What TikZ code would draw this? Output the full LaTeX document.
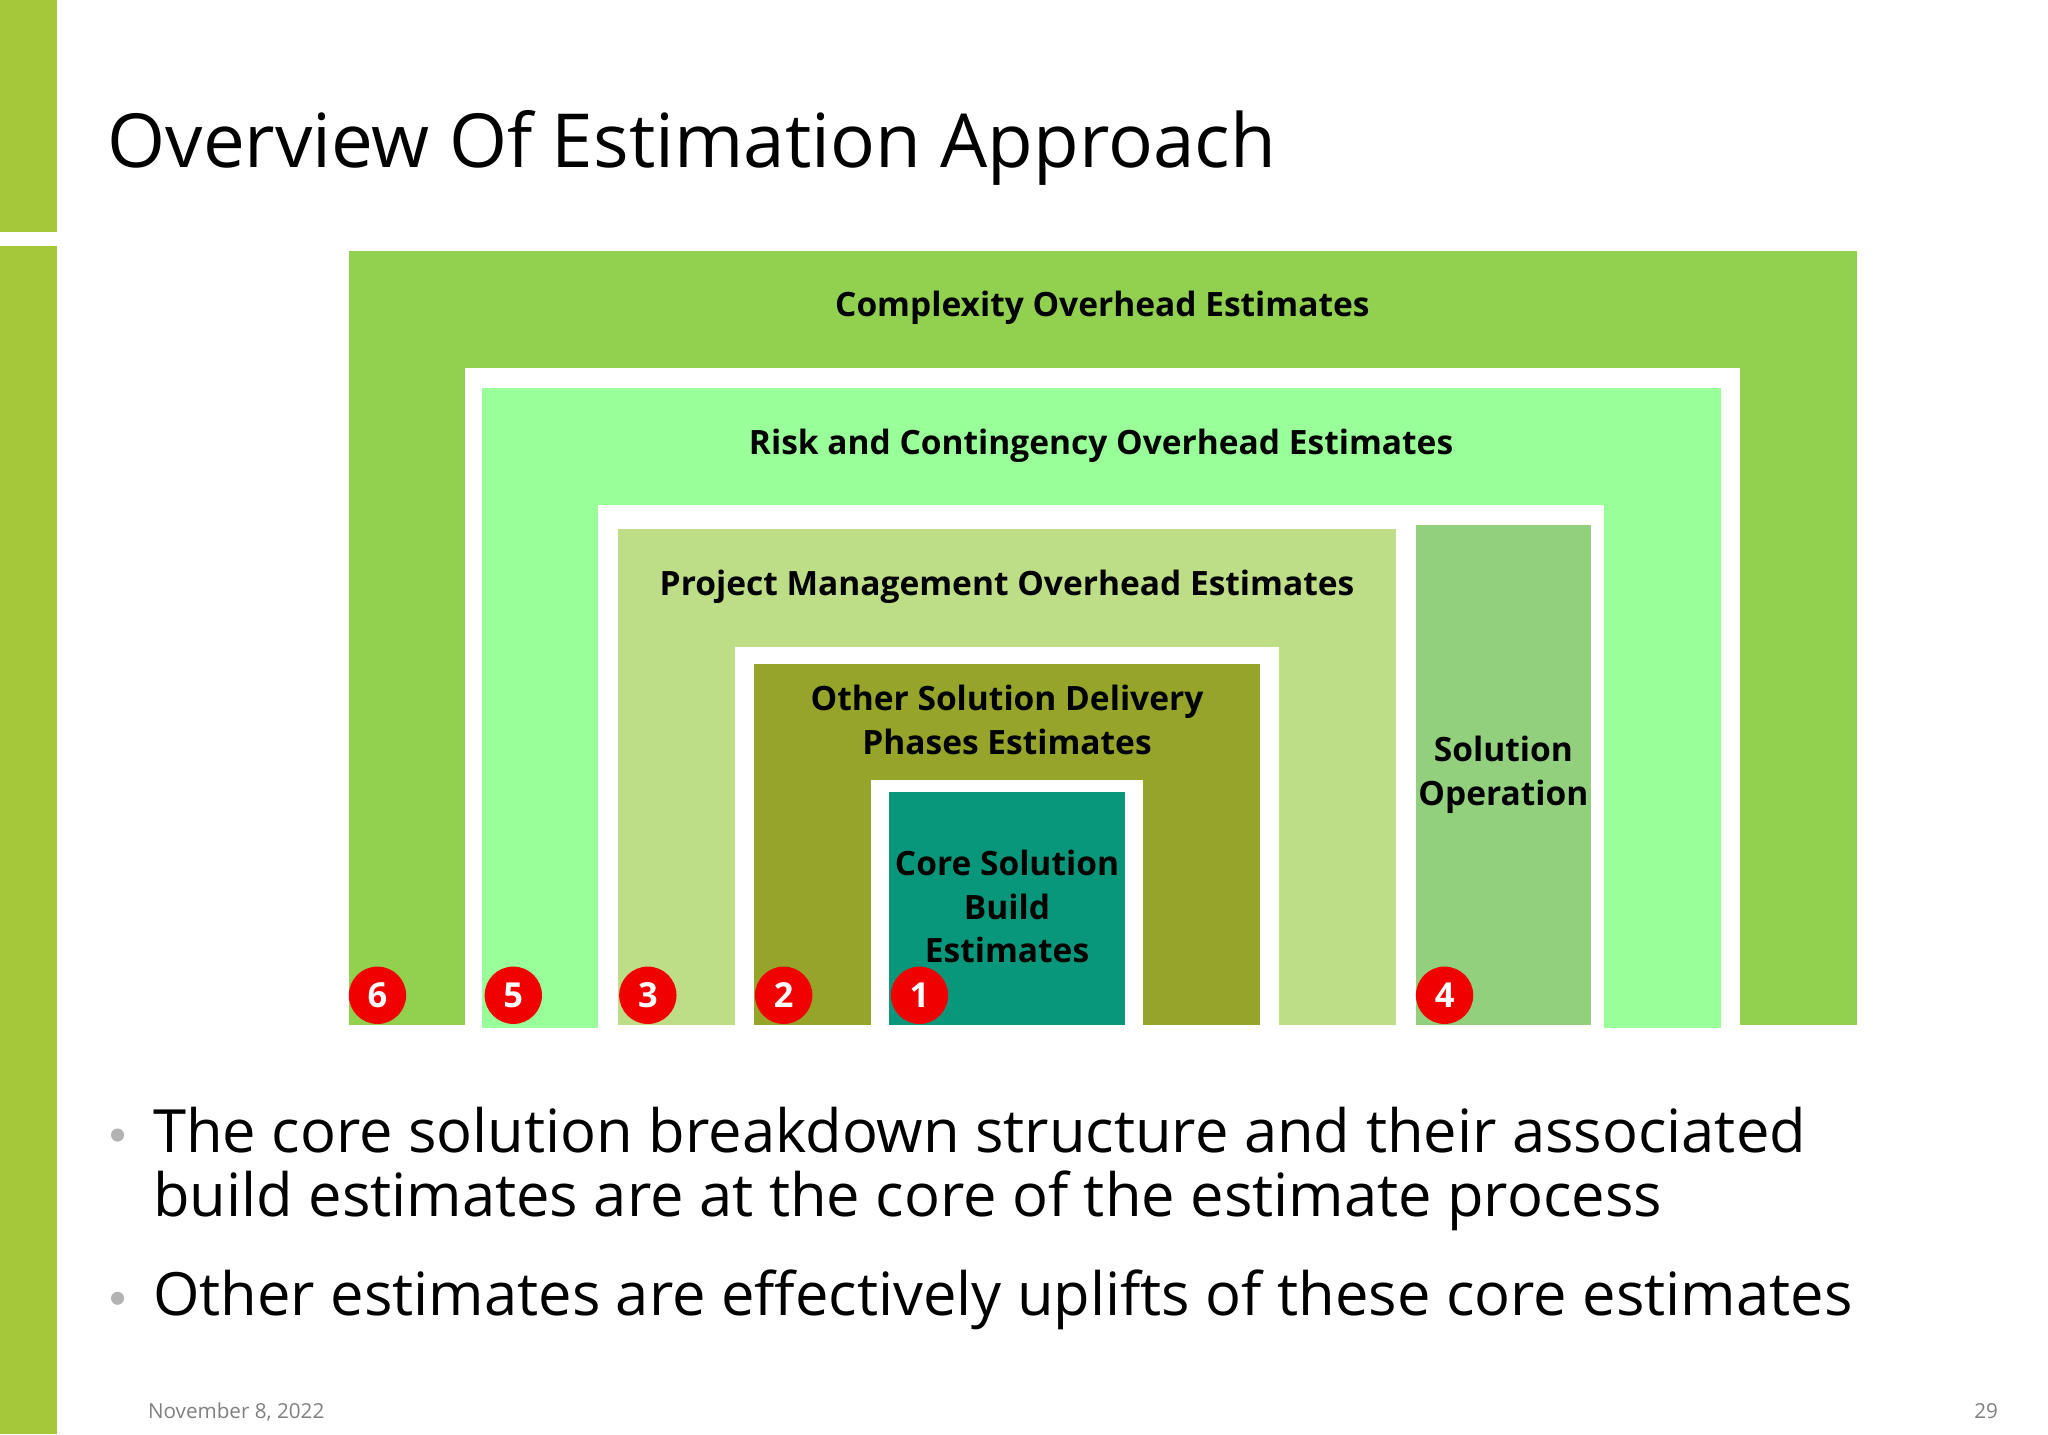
\documentclass[tikz,border=0pt]{standalone}
\usepackage{fontspec}
\setmainfont{Open Sans}
\definecolor{barg}{HTML}{A5C83A}
\definecolor{c6}{HTML}{92D050}
\definecolor{c5}{HTML}{99FF99}
\definecolor{c3}{HTML}{BEDD87}
\definecolor{c4}{HTML}{92D07E}
\definecolor{c2}{HTML}{96A42A}
\definecolor{c1}{HTML}{08977A}
\definecolor{redc}{HTML}{F00000}
\begin{document}
\begin{tikzpicture}[x=0.02cm,y=-0.02cm,
  lbl/.style={font=\fontsize{14.6}{19}\selectfont\bfseries,align=center,text=black},
  num/.style={circle,fill=redc,minimum size=25pt,inner sep=0pt,text=white,font=\fontsize{15}{15}\selectfont\bfseries},
  bul/.style={anchor=base west,font=\fontsize{26}{28}\selectfont}]
\useasboundingbox (0,0) rectangle (1568,1098);
\fill[white] (0,0) rectangle (1568,1098);
\fill[barg] (0,0) rectangle (44,178);
\fill[barg] (0,188) rectangle (44,1098);
\node[anchor=base west,font=\fontsize{32.5}{36}\selectfont,inner sep=0] (title) at (82,128) {Overview Of Estimation Approach};
\fill[c6] (267,192) rectangle (1422,785);
\fill[white] (356,282) rectangle (1332,785);
\fill[c5] (369,297) rectangle (1318,787);
\fill[white] (458,387) rectangle (1228,787);
\fill[c3] (473,405) rectangle (1069,785);
\fill[c4] (1084,402) rectangle (1218,785);
\fill[white] (563,495) rectangle (979,785);
\fill[c2] (577,508) rectangle (965,785);
\fill[white] (667,597) rectangle (875,785);
\fill[c1] (681,606) rectangle (861,785);
\node[lbl] (l6) at (844,236) {Complexity Overhead Estimates};
\node[lbl] (l5) at (843,341) {Risk and Contingency Overhead Estimates};
\node[lbl] (l3) at (771,449) {Project Management Overhead Estimates};
\node[lbl] (l2) at (771,551) {Other Solution Delivery\\Phases Estimates};
\node[lbl] (l1) at (771,694) {Core Solution\\Build\\Estimates};
\node[lbl] (l4) at (1151,593) {Solution\\Operation};
\node[num] (n6) at (289,762) {6};
\node[num] (n5) at (393,762) {5};
\node[num] (n3) at (496,762) {3};
\node[num] (n2) at (600,762) {2};
\node[num] (n1) at (704,762) {1};
\node[num] (n4) at (1106,762) {4};
\fill[gray!60] (90,869) circle (5);
\fill[gray!60] (90,994) circle (5);
\node[bul,inner sep=0] (b1) at (117,882) {The core solution breakdown structure and their associated};
\node[bul,inner sep=0] (b1b) at (117,931) {build estimates are at the core of the estimate process};
\node[bul,inner sep=0] (b2) at (117,1007) {Other estimates are effectively uplifts of these core estimates};
\node[anchor=base west,inner sep=0,text=gray,font=\fontsize{9}{11}\selectfont] (date) at (113,1086) {November 8, 2022};
\node[anchor=base east,inner sep=0,text=gray,font=\fontsize{9}{11}\selectfont] (pg) at (1530,1086) {29};
\end{tikzpicture}
\end{document}
